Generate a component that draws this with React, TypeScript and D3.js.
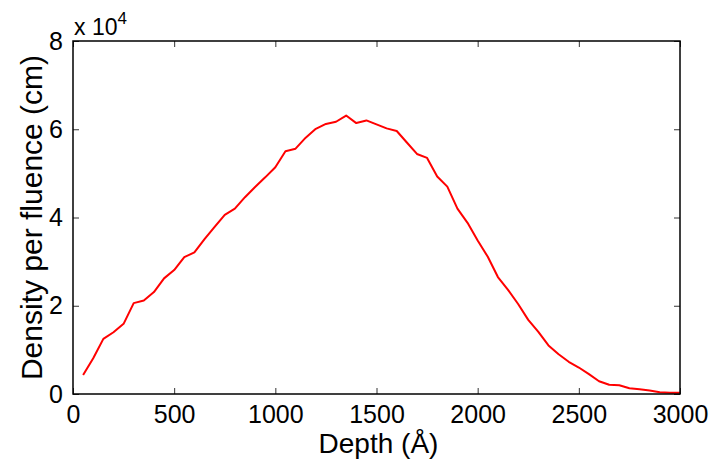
import { useEffect, useRef } from "react";
import * as d3 from "d3";

// depth in angstrom
const depth = [
  50, 100, 150, 200, 250, 300, 350, 400, 450, 500, 550, 600, 650, 700, 750,
  800, 850, 900, 950, 1000, 1050, 1100, 1150, 1200, 1250, 1300, 1350, 1400,
  1450, 1500, 1550, 1600, 1650, 1700, 1750, 1800, 1850, 1900, 1950, 2000,
  2050, 2100, 2150, 2200, 2250, 2300, 2350, 2400, 2450, 2500, 2550, 2600,
  2650, 2700, 2750, 2800, 2850, 2900, 2950, 3000,
];

// density per fluence, in units of 1e4 cm
const density = [
  0.43, 0.81, 1.25, 1.4, 1.59, 2.06, 2.12, 2.31, 2.62, 2.81, 3.1, 3.21, 3.51,
  3.79, 4.06, 4.2, 4.46, 4.69, 4.91, 5.14, 5.5, 5.56, 5.81, 6.01, 6.12, 6.17,
  6.31, 6.14, 6.2, 6.11, 6.02, 5.96, 5.7, 5.44, 5.35, 4.93, 4.7, 4.2, 3.88,
  3.48, 3.11, 2.65, 2.36, 2.04, 1.68, 1.41, 1.1, 0.9, 0.73, 0.6, 0.45, 0.29,
  0.21, 0.2, 0.13, 0.11, 0.08, 0.04, 0.03, 0.03,
];

const xTicks = [0, 500, 1000, 1500, 2000, 2500, 3000];
const yTicks = [0, 2, 4, 6, 8];

const W = 716;
const H = 462;
const margin = { top: 41, right: 36, bottom: 68, left: 73 };
const font = "'Liberation Sans', Arial, sans-serif";

export default function App() {
  const ref = useRef<SVGSVGElement | null>(null);

  useEffect(() => {
    const svg = d3.select(ref.current);
    svg.selectAll("*").remove();

    const width = W - margin.left - margin.right;
    const height = H - margin.top - margin.bottom;

    const x = d3.scaleLinear().domain([0, 3000]).range([0, width]);
    const y = d3.scaleLinear().domain([0, 8]).range([height, 0]);

    const g = svg
      .append("g")
      .attr("transform", `translate(${margin.left},${margin.top})`);

    // curve
    const pts = depth.map((d, i) => [d, density[i]] as [number, number]);
    g.append("path")
      .datum(pts)
      .attr("fill", "none")
      .attr("stroke", "#ff0000")
      .attr("stroke-width", 2)
      .attr("stroke-linejoin", "round")
      .attr(
        "d",
        d3
          .line<[number, number]>()
          .x((d) => x(d[0]))
          .y((d) => y(d[1]))
      );

    // axes: ticks point inward, mirrored on top/right
    const tk = 6;
    const fmtX = (d: d3.NumberValue) => String(d);

    g.append("g")
      .attr("transform", `translate(0,${height})`)
      .call(d3.axisBottom(x).tickValues(xTicks).tickSize(-tk).tickPadding(tk + 5).tickFormat(fmtX))
      .call((a) => a.select(".domain").remove());

    g.append("g")
      .call(d3.axisTop(x).tickValues(xTicks).tickSize(-tk).tickFormat(() => ""))
      .call((a) => a.select(".domain").remove());

    g.append("g")
      .call(d3.axisLeft(y).tickValues(yTicks).tickSize(-tk).tickPadding(tk + 4).tickFormat((d) => String(d)))
      .call((a) => a.select(".domain").remove());

    g.append("g")
      .attr("transform", `translate(${width},0)`)
      .call(d3.axisRight(y).tickValues(yTicks).tickSize(-tk).tickFormat(() => ""))
      .call((a) => a.select(".domain").remove());

    g.selectAll(".tick line").attr("stroke", "#333").attr("stroke-width", 1);
    g.selectAll(".tick text")
      .attr("fill", "#000")
      .style("font-family", font)
      .style("font-size", "25px");

    // box
    g.append("rect")
      .attr("width", width)
      .attr("height", height)
      .attr("fill", "none")
      .attr("stroke", "#000")
      .attr("stroke-width", 1.5);

    // labels
    svg
      .append("text")
      .attr("x", margin.left + width / 2 + 2)
      .attr("y", 453)
      .attr("text-anchor", "middle")
      .style("font-family", font)
      .style("font-size", "28px")
      .text("Depth (Å)");

    svg
      .append("text")
      .attr("transform", `translate(42,${margin.top + height / 2}) rotate(-90)`)
      .attr("text-anchor", "middle")
      .style("font-family", font)
      .style("font-size", "30px")
      .text("Density per fluence (cm)");

    const exp = svg
      .append("text")
      .attr("x", margin.left + 1)
      .attr("y", 35)
      .style("font-family", font)
      .style("font-size", "23px");
    exp.append("tspan").text("x 10");
    exp.append("tspan").attr("dy", -11).style("font-size", "17px").text("4");
  }, []);

  return (
    <div style={{ position: "absolute", left: 0, top: 0, background: "#fff" }}>
      <svg ref={ref} width={W} height={H} style={{ display: "block" }} />
    </div>
  );
}
